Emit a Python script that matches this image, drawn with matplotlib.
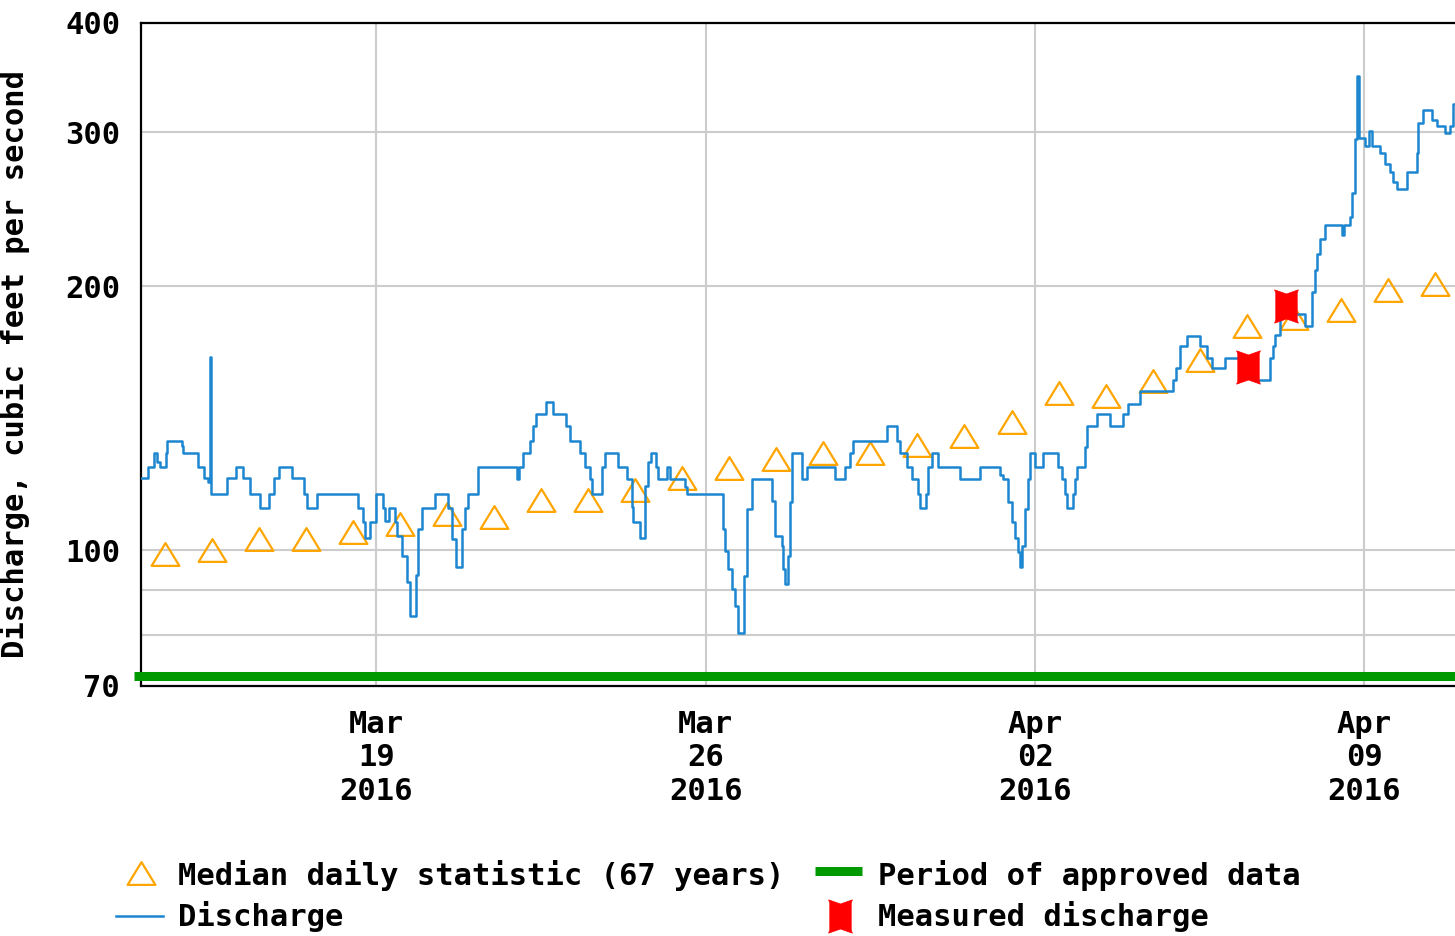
import numpy as np
import pandas as pd
import matplotlib
matplotlib.use("Agg")
import matplotlib.pyplot as plt
import matplotlib.dates as mdates
from matplotlib.path import Path
from matplotlib.lines import Line2D
from matplotlib.ticker import FixedLocator, NullFormatter, FixedFormatter

# --- Data --- #

start = pd.Timestamp("2016-03-14 00:00")

# discharge (cfs), step knots: hours after Mar 14 00:00
hours = [
    0.0, 3.5, 6.6, 8.2, 9.7, 12.7, 13.3, 20.9, 21.4, 29.1, 32.1, 34.2, 35.2, 35.7,
    43.9, 48.4, 52.0, 55.6, 60.7, 65.3, 67.8, 70.4, 77.0, 83.1, 84.6, 89.7,
    110.6, 113.2, 114.2, 116.8, 119.8, 123.4, 124.4, 126.5, 129.5, 130.5, 133.1,
    135.6, 137.2, 140.2, 141.2, 143.3, 149.9, 156.5, 158.6, 160.6, 163.7, 165.2,
    166.7, 171.8, 191.7, 192.7, 194.8, 198.4, 199.9, 201.4, 206.5, 210.1, 216.7,
    218.7, 223.8, 226.4, 228.9, 230.0, 235.1, 236.6, 243.2, 247.8, 250.4, 250.9,
    254.4, 257.0, 258.5, 260.0, 262.6, 263.6, 268.2, 269.7, 277.4, 278.4, 296.8,
    297.8, 299.3, 301.4, 302.9, 304.4, 307.5, 309.0, 311.6, 321.7, 323.3, 326.8,
    327.4, 328.4, 329.9, 330.9, 332.0, 337.1, 339.6, 353.9, 359.0, 361.5, 363.0,
    380.4, 385.5, 387.0, 390.6, 393.1, 396.2, 397.2, 400.3, 401.3, 403.3, 406.4,
    417.6, 427.8, 438.0, 439.5, 442.1, 444.1, 445.7, 447.2, 448.2, 449.2, 450.8,
    452.3, 453.3, 455.9, 459.9, 467.6, 469.6, 471.2, 472.2, 475.2, 476.2, 477.3,
    481.3, 482.4, 487.5, 494.1, 500.7, 503.3, 509.4, 526.2, 527.7, 529.8, 533.4,
    540.0, 543.6, 546.1, 552.7, 569.1, 575.7, 577.2, 578.2, 580.8, 593.5, 597.1,
    598.6, 599.6, 601.2, 603.7, 612.4, 613.4, 616.5, 617.5, 619.0, 620.1, 621.1,
    624.2, 626.2, 627.7, 631.8, 634.4, 636.9, 638.4, 640.5, 645.6, 650.7, 651.2,
    653.7, 658.3, 660.8, 664.9, 667.4, 669.0, 670.0,
]
discharge = [
    121, 124.5, 129, 126, 124.5, 129, 133.4, 131.5, 129, 124.5, 121, 119.7, 166, 116,
    121, 124.5, 121, 116, 111.8, 116, 121, 124.5, 121, 116, 111.8, 116,
    111.8, 107.7, 103.2, 107.7, 116, 111.8, 108, 111.8, 107.7, 103.8, 98.4,
    91.9, 84.2, 93.8, 105.7, 111.8, 116, 111.8, 103, 95.6, 105.7, 111.8,
    116, 124.5, 120.7, 124.5, 129, 133.4, 138.5, 143, 147.6, 143, 138.5,
    133.4, 129, 124.5, 120.7, 116, 124.5, 129, 124.5, 120.7, 112, 107.7,
    103.2, 118.4, 126.2, 129, 124.5, 120.7, 124.5, 120.7, 118, 116, 105.7,
    99.7, 95.1, 90.2, 86.3, 80.5, 93.4, 111.4, 120.7, 113.8, 103.8, 101,
    95.1, 91.6, 98.4, 113.5, 129, 120.7, 124.5, 120.7, 124.5, 129, 133.4,
    138.5, 133.4, 129, 124.5, 120.7, 116, 111.8, 116, 124.5, 129, 124.5,
    120.7, 124.5, 122, 120.7, 113.5, 107.7, 103.2, 99.5, 95.6, 101, 111.4,
    120.7, 129, 124.5, 129, 124.5, 120.7, 116, 111.8, 116, 120.7, 124.5,
    131.3, 138.5, 143, 138.5, 143, 147, 152, 156.4, 161.5, 171, 175.6,
    171, 165.9, 161.5, 165.9, 156.4, 165.9, 171, 176, 185.8, 180.4, 197.1,
    208.8, 217.7, 226.5, 235, 229, 235, 240, 255.5, 294.4, 348, 295.6,
    289, 300.7, 289, 283.6, 275.5, 270, 263, 258, 270, 283.6, 307,
    318, 310, 305, 299, 305, 323, 323,
]

# median daily statistic (67 years), one value per day
median_days = pd.date_range("2016-03-14 12:00", "2016-04-10 12:00", freq="D")
median_cfs = [
    99, 100, 103, 103, 105, 107, 110, 109, 114, 114, 117, 121, 124, 127,
    129, 129, 132, 135, 140, 151, 150, 156, 165, 180, 184, 188, 198, 201,
]

# measured discharge
measured_times = pd.to_datetime(["2016-04-06 12:30", "2016-04-07 07:50"])
measured_cfs = [162, 190]

tick_dates = pd.to_datetime(["2016-03-19", "2016-03-26", "2016-04-02", "2016-04-09"])
y_ticks = [70, 100, 200, 300, 400]
y_minor = [80, 90]

x_end = start + pd.Timedelta(hours=670.2)

# --- Styling --- #

FONT = "DejaVu Sans Mono"
FS = 22
blue = "#1c87d0"
orange = "#ffa500"
green = "#009900"
red = "#ff0000"
grid_c = "#cccccc"

tri = Path([(0, 0.82), (-1, -0.82), (1, -0.82), (0, 0.82)],
           [Path.MOVETO, Path.LINETO, Path.LINETO, Path.CLOSEPOLY])
# red "spool" marker: box with notched top and bottom
spool = Path([(-1.0, -1.4), (0, -1.05), (1.0, -1.4), (0.9, -1.15), (0.9, 1.15),
              (1.0, 1.4), (0, 1.05), (-1.0, 1.4), (-0.9, 1.15), (-0.9, -1.15), (-1.0, -1.4)],
             [Path.MOVETO] + [Path.LINETO] * 9 + [Path.CLOSEPOLY])

plt.rcParams["font.family"] = FONT
plt.rcParams["font.weight"] = "bold"

fig = plt.figure(figsize=(14.55, 9.36), dpi=100)
W, H = 1455, 936
ax = fig.add_axes([141 / W, 1 - 686 / H, 1 - 141 / W, (686 - 22.5) / H])

times = start + pd.to_timedelta(hours, unit="h")
ax.plot(times, discharge, drawstyle="steps-post", color=blue, lw=1.8, zorder=3)

ax.plot(median_days, median_cfs, linestyle="none", marker=tri, markersize=20,
        markerfacecolor="none", markeredgecolor=orange, markeredgewidth=1.6, zorder=2)

ax.plot(measured_times, measured_cfs, linestyle="none", marker=spool, markersize=24,
        markerfacecolor=red, markeredgecolor=red, markeredgewidth=0.5, zorder=4)

# period of approved data bar
ax.plot([-0.005, 1.0], [0.015, 0.015], transform=ax.transAxes, color=green,
        lw=6.5, solid_capstyle="butt", clip_on=False, zorder=5)

ax.set_yscale("log")
ax.set_ylim(70, 400)
ax.set_xlim(start, x_end)

ax.yaxis.set_major_locator(FixedLocator(y_ticks))
ax.yaxis.set_major_formatter(FixedFormatter([str(v) for v in y_ticks]))
ax.yaxis.set_minor_locator(FixedLocator(y_minor))
ax.yaxis.set_minor_formatter(NullFormatter())

ax.set_xticks(tick_dates)
ax.xaxis.set_major_formatter(mdates.DateFormatter("%b\n%d\n%Y"))

ax.grid(True, which="both", color=grid_c, lw=1.5)
ax.set_axisbelow(True)

ax.tick_params(axis="both", which="both", length=0)
ax.tick_params(axis="y", pad=15, labelsize=FS)
ax.tick_params(axis="x", pad=17, labelsize=FS)
for lab in ax.get_xticklabels():
    lab.set_linespacing(1.2)

for side in ["left", "top", "bottom"]:
    ax.spines[side].set_color("black")
    ax.spines[side].set_linewidth(1.6)
ax.spines["right"].set_visible(False)

ax.set_ylabel("Discharge, cubic feet per second", fontsize=FS, fontweight="bold")
ax.yaxis.set_label_coords(-0.0845, 0.486)

# --- Legend (drawn by hand to match layout) --- #

def fx(px):
    return px / W


def fy(py):
    return 1 - py / H


fig.add_artist(Line2D([fx(141)], [fy(873)], marker=tri, markersize=20, linestyle="none",
                      markerfacecolor="none", markeredgecolor=orange, markeredgewidth=1.6))
fig.text(fx(178), fy(885), "Median daily statistic (67 years)", fontsize=FS,
         fontweight="bold", va="baseline")

fig.add_artist(Line2D([fx(116), fx(163)], [fy(916), fy(916)], color=blue, lw=1.8))
fig.text(fx(178), fy(926), "Discharge", fontsize=FS, fontweight="bold", va="baseline")

fig.add_artist(Line2D([fx(815), fx(862)], [fy(871), fy(871)], color=green, lw=6.5,
                      solid_capstyle="butt"))
fig.text(fx(878), fy(885), "Period of approved data", fontsize=FS,
         fontweight="bold", va="baseline")

fig.add_artist(Line2D([fx(840)], [fy(916)], marker=spool, markersize=24, linestyle="none",
                      markerfacecolor=red, markeredgecolor=red, markeredgewidth=0.5))
fig.text(fx(878), fy(926), "Measured discharge", fontsize=FS, fontweight="bold", va="baseline")

fig.savefig("out.png", dpi=100)
